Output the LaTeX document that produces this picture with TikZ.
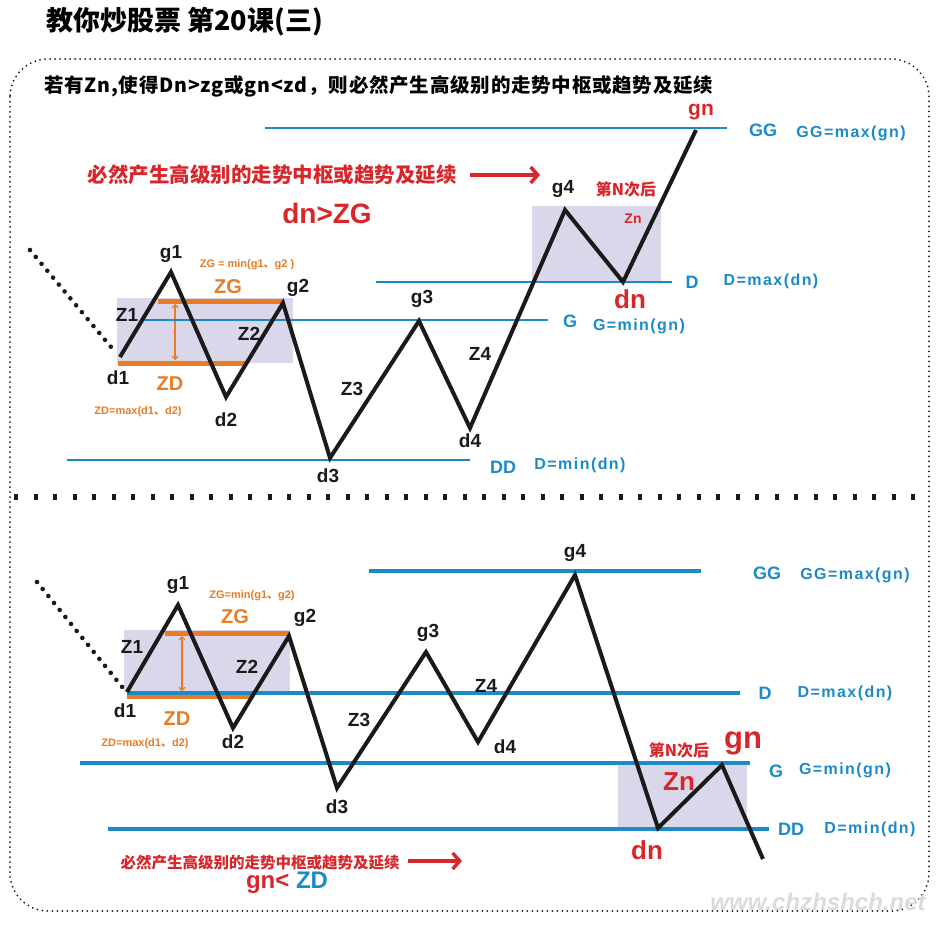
\documentclass[tikz,border=0pt]{standalone}
\usepackage{fontspec}
\setmainfont{Liberation Sans}
\newfontfamily\cjk{Noto Sans CJK SC}
\newfontfamily\cjksp{Noto Sans CJK SC}[LetterSpace=4]
\newfontfamily\eqfont{Liberation Sans}[LetterSpace=9]
\usetikzlibrary{arrows.meta,calc}
\definecolor{zblue}{HTML}{1B8AC8}
\definecolor{zorange}{HTML}{E87B23}
\definecolor{zred}{HTML}{D9262B}
\definecolor{zbox}{HTML}{D9D7E9}
\definecolor{zblack}{HTML}{1A1A1A}
\newcommand\zfs[1]{\fontsize{#1}{#1}\selectfont}
\begin{document}
\begin{tikzpicture}[x=1pt,y=-1pt,
  price/.style={zblack,line width=4pt,line join=miter},
  lvl/.style={zblue,line width=2.2pt},
  lvlb/.style={zblue,line width=3.6pt},
  zline/.style={zorange,line width=5pt},
  boxfill/.style={fill=zbox,draw=none},
  lab/.style={font=\zfs{19}\bfseries,text=zblack,inner sep=0pt},
  olab/.style={font=\zfs{20}\bfseries,text=zorange,inner sep=0pt},
  osmall/.style={font=\zfs{11}\bfseries,text=zorange,inner sep=0pt},
  blab/.style={font=\zfs{18}\bfseries,text=zblue,inner sep=0pt},
  beq/.style={font=\eqfont\zfs{16}\bfseries,text=zblue,inner sep=0pt},
  rlab/.style={font=\zfs{26}\bfseries,text=zred,inner sep=0pt},
  dotline/.style={zblack,line width=4.6pt,line cap=round,dash pattern=on 0pt off 9pt},
  border/.style={zblack,line width=2pt,line cap=round,dash pattern=on 0pt off 5pt},
  sepline/.style={zblack,line width=6pt,dash pattern=on 4pt off 15.5pt},
  redarrow/.style={zred,line width=3.5pt,-{Straight Barb[length=7pt,width=16pt,line width=3.5pt]}},
  oarrow/.style={zorange,line width=1.1pt,{Straight Barb[length=3pt,width=6pt]}-{Straight Barb[length=3pt,width=6pt]}}
]
\useasboundingbox (0,0) rectangle (949,925);
% frame
\draw[border,rounded corners=38pt] (10,59) rectangle (929,911);
\draw[sepline] (14,497) -- (928,497);

% title and header
\node[inner sep=0pt,anchor=west,font=\cjk\zfs{27}\bfseries] (title) at (46,22) {教你炒股票 第20课(三)};
\node[inner sep=0pt,anchor=west,font=\cjksp\zfs{19.5}\bfseries] (header) at (44,86) {若有Zn,使得Dn>zg或gn<zd，则必然产生高级别的走势中枢或趋势及延续};

% ================= TOP PANEL =================
\coordinate (s1) at (30,250);
\coordinate (d1) at (120,357);
\coordinate (g1) at (171,272);
\coordinate (d2) at (226,397);
\coordinate (g2) at (283,303);
\coordinate (d3) at (330,458);
\coordinate (g3) at (419,321);
\coordinate (d4) at (470,428);
\coordinate (g4) at (565,210);
\coordinate (dn) at (623,282);
\coordinate (gn) at (696,130);

\fill[boxfill] (117,298) rectangle (293,363);
\fill[boxfill] (532,206) rectangle (661,282);

\coordinate (zgL) at (158,301); \coordinate (zgR) at (283,301);
\coordinate (zdL) at (118,363); \coordinate (zdR) at (245,363);
\draw[zline] (zgL) -- (zgR);
\draw[zline] (zdL) -- (zdR);
\coordinate (oa1) at (175,304); \coordinate (oa2) at (175,360);
\draw[oarrow] (oa1) -- (oa2);

\coordinate (GGa) at (265,128); \coordinate (GGb) at (727,128);
\coordinate (Da) at (376,282); \coordinate (Db) at (672,282);
\coordinate (Ga) at (143,320); \coordinate (Gb) at (548,320);
\coordinate (DDa) at (67,460); \coordinate (DDb) at (470,460);
\draw[lvl] (GGa) -- (GGb);
\draw[lvl] (Da) -- (Db);
\draw[lvl] (Ga) -- (Gb);
\draw[lvl] (DDa) -- (DDb);

\draw[dotline] (s1) -- ($(d1)+(-4,-4)$);
\draw[price] (d1) -- (g1) -- (d2) -- (g2) -- (d3) -- (g3) -- (d4) -- (g4) -- (dn) -- (gn);

\node[lab] (lg1) at (171,254) {g1};
\node[lab] (lg2) at (298,288) {g2};
\node[lab] (lz1) at (127,315) {Z1};
\node[lab] (lz2) at (249,334) {Z2};
\node[lab] (ld1) at (118,378) {d1};
\node[lab] (ld2) at (226,420) {d2};
\node[lab] (ld3) at (328,476) {d3};
\node[lab] (lg3) at (422,299) {g3};
\node[lab] (lz3) at (352,389) {Z3};
\node[lab] (lz4) at (480,354) {Z4};
\node[lab] (ld4) at (470,441) {d4};
\node[lab] (lg4) at (563,189) {g4};
\node[olab] (lzg) at (228,287) {ZG};
\node[olab] (lzd) at (170,384) {ZD};
\node[osmall] (szg) at (247,265) {ZG = min(g1{\cjk 、}g2 )};
\node[osmall] (szd) at (138,412) {ZD=max(d1{\cjk 、}d2)};

\node[font=\cjk\zfs{16}\bfseries,text=zred,inner sep=0pt] (nth) at (626,189) {第N次后};
\node[font=\zfs{14}\bfseries,text=zred,inner sep=0pt] (zn) at (633,219) {Zn};
\node[rlab] (ldn) at (630,299) {dn};
\node[font=\zfs{21}\bfseries,text=zred,inner sep=0pt] (lgn) at (701,112) {gn};

\node[blab] (tGG) at (763,130) {GG};
\node[beq] (tGGe) at (851,133) {GG=max(gn)};
\node[blab] (tD) at (692,282) {D};
\node[beq] (tDe) at (771,281) {D=max(dn)};
\node[blab] (tG) at (570,321) {G};
\node[beq] (tGe) at (639,326) {G=min(gn)};
\node[blab] (tDD) at (503,467) {DD};
\node[beq] (tDDe) at (580,465) {D=min(dn)};

\node[font=\cjk\zfs{20.5}\bfseries,text=zred,inner sep=0pt] (rtxt1) at (272,175) {必然产生高级别的走势中枢或趋势及延续};
\coordinate (ra1) at (470,175); \coordinate (ra2) at (540,175);
\draw[redarrow] (ra1) -- (ra2);
\node[font=\zfs{28}\bfseries,text=zred,inner sep=0pt] (cond1) at (327,213) {dn>ZG};

% ================= BOTTOM PANEL =================
\coordinate (S2) at (37,582);
\coordinate (D1) at (127,692);
\coordinate (G1) at (178,605);
\coordinate (D2) at (233,728);
\coordinate (G2) at (289,636);
\coordinate (D3) at (337,788);
\coordinate (G3) at (426,652);
\coordinate (D4) at (478,742);
\coordinate (G4) at (575,575);
\coordinate (DN) at (658,828);
\coordinate (GN) at (722,765);
\coordinate (EN) at (763,859);

\fill[boxfill] (124,630) rectangle (290,692);
\fill[boxfill] (618,763) rectangle (747,829);

\coordinate (ZGL) at (165,633); \coordinate (ZGR) at (289,633);
\coordinate (ZDL) at (127,696); \coordinate (ZDR) at (252,696);
\draw[zline] (ZGL) -- (ZGR);
\draw[zline] (ZDL) -- (ZDR);
\coordinate (OA1) at (182,636); \coordinate (OA2) at (182,691);
\draw[oarrow] (OA1) -- (OA2);

\coordinate (BGGa) at (369,571); \coordinate (BGGb) at (701,571);
\coordinate (BDa) at (127,693); \coordinate (BDb) at (740,693);
\coordinate (BGa) at (80,763); \coordinate (BGb) at (750,763);
\coordinate (BDDa) at (108,829); \coordinate (BDDb) at (769,829);
\draw[lvlb] (BGGa) -- (BGGb);
\draw[lvlb] (BDa) -- (BDb);
\draw[lvlb] (BGa) -- (BGb);
\draw[lvlb] (BDDa) -- (BDDb);

\draw[dotline] (S2) -- ($(D1)+(-4,-4)$);
\draw[price] (D1) -- (G1) -- (D2) -- (G2) -- (D3) -- (G3) -- (D4) -- (G4) -- (DN) -- (GN) -- (EN);

\node[lab] (Lg1) at (178,585) {g1};
\node[lab] (Lg2) at (305,618) {g2};
\node[lab] (Lz1) at (132,647) {Z1};
\node[lab] (Lz2) at (247,667) {Z2};
\node[lab] (Ld1) at (125,711) {d1};
\node[lab] (Ld2) at (233,742) {d2};
\node[lab] (Ld3) at (337,807) {d3};
\node[lab] (Lg3) at (428,633) {g3};
\node[lab] (Lz3) at (359,720) {Z3};
\node[lab] (Lz4) at (486,686) {Z4};
\node[lab] (Ld4) at (505,747) {d4};
\node[lab] (Lg4) at (575,553) {g4};
\node[olab] (Lzg) at (235,617) {ZG};
\node[olab] (Lzd) at (177,719) {ZD};
\node[osmall] (Szg) at (252,596) {ZG=min(g1{\cjk 、}g2)};
\node[osmall] (Szd) at (145,744) {ZD=max(d1{\cjk 、}d2)};

\node[font=\cjk\zfs{16}\bfseries,text=zred,inner sep=0pt] (Nth) at (679,750) {第N次后};
\node[font=\zfs{31}\bfseries,text=zred,inner sep=0pt] (Lgn) at (743,743) {gn};
\node[font=\zfs{26}\bfseries,text=zred,inner sep=0pt] (Lzn) at (679,782) {Zn};
\node[rlab] (Ldn) at (647,850) {dn};

\node[blab] (bGG) at (767,573) {GG};
\node[beq] (bGGe) at (855,575) {GG=max(gn)};
\node[blab] (bD) at (765,693) {D};
\node[beq] (bDe) at (845,693) {D=max(dn)};
\node[blab] (bG) at (776,771) {G};
\node[beq] (bGe) at (845,770) {G=min(gn)};
\node[blab] (bDD) at (791,829) {DD};
\node[beq] (bDDe) at (870,829) {D=min(dn)};

\node[font=\cjk\zfs{15.5}\bfseries,text=zred,inner sep=0pt] (rtxt2) at (260,863) {必然产生高级别的走势中枢或趋势及延续};
\coordinate (RA1) at (408,861); \coordinate (RA2) at (462,861);
\draw[redarrow] (RA1) -- (RA2);
\node[font=\zfs{24}\bfseries,inner sep=0pt] (cond2) at (287,883) {\textcolor{zred}{gn<} \textcolor{zblue}{ZD}};

\node[font=\zfs{24}\bfseries\itshape,text=black!14,inner sep=0pt] (wm) at (818,902) {www.chzhshch.net};
\end{tikzpicture}
\end{document}
